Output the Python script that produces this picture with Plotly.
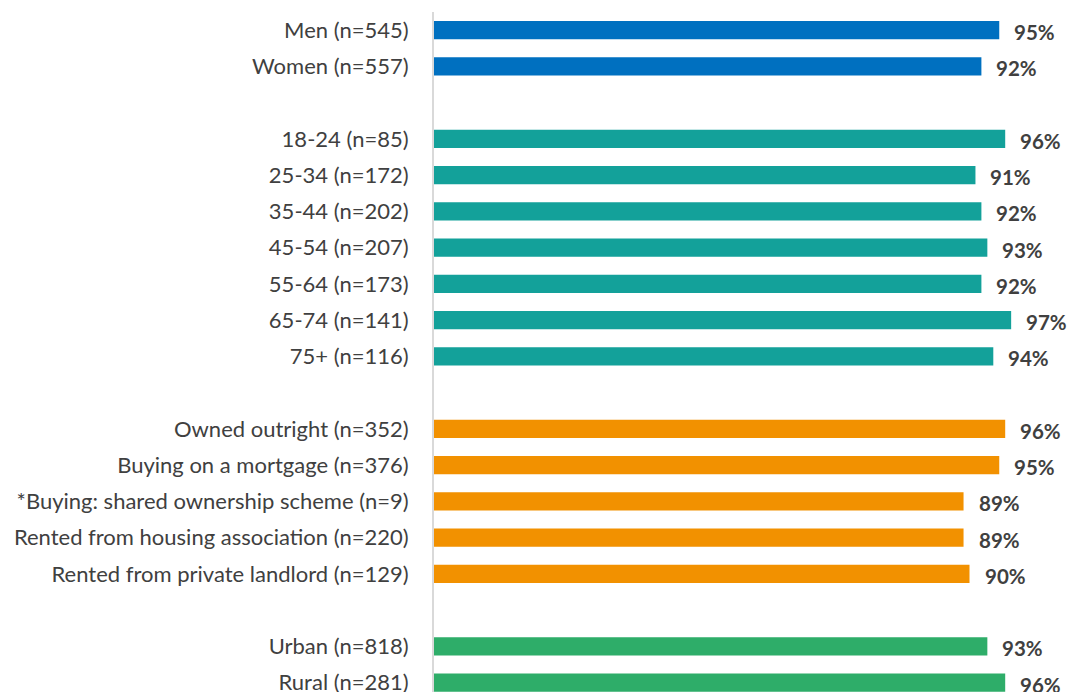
import plotly.graph_objects as go

# Survey results by subgroup (% of respondents)
gender_labels = ["Men (n=545)", "Women (n=557)"]
gender_values = [95, 92]

age_labels = ["18-24 (n=85)", "25-34 (n=172)", "35-44 (n=202)", "45-54 (n=207)",
              "55-64 (n=173)", "65-74 (n=141)", "75+ (n=116)"]
age_values = [96, 91, 92, 93, 92, 97, 94]

tenure_labels = ["Owned outright (n=352)", "Buying on a mortgage (n=376)",
                 "*Buying: shared ownership scheme (n=9)",
                 "Rented from housing association (n=220)",
                 "Rented from private landlord (n=129)"]
tenure_values = [96, 95, 89, 89, 90]

area_labels = ["Urban (n=818)", "Rural (n=281)"]
area_values = [93, 96]

groups = [
    (gender_labels, gender_values, "#0070C0"),
    (age_labels, age_values, "#13A19A"),
    (tenure_labels, tenure_values, "#F29100"),
    (area_labels, area_values, "#2EAD69"),
]

# category order with empty spacer rows between groups
order = []
for i, (labels, _, _) in enumerate(groups):
    if i > 0:
        order.append(" " * i)
    order.extend(labels)

fig = go.Figure()
annotations = []
for labels, values, color in groups:
    fig.add_trace(go.Bar(
        y=labels, x=values, orientation="h",
        marker=dict(color=color, line=dict(width=0)),
        width=0.5, showlegend=False, hoverinfo="skip",
    ))
    for lab, v in zip(labels, values):
        annotations.append(dict(
            x=v, y=lab, xref="x", yref="y", text=f"<b>{v}%</b>",
            showarrow=False, xanchor="left", yanchor="middle", xshift=13, yshift=-2,
            font=dict(family="Lato", size=20.5, color="#404040"),
        ))

pitch = 36.25
top_margin = 12
plot_h = 692 - top_margin

fig.update_layout(
    width=1076, height=692,
    margin=dict(l=434, r=47, t=top_margin, b=0, pad=0, autoexpand=False),
    paper_bgcolor="white", plot_bgcolor="white",
    bargap=0.5,
    annotations=annotations,
    font=dict(family="Lato", size=18, color="#404040"),
)
fig.update_xaxes(range=[0, 100], showgrid=False, zeroline=False,
                 showticklabels=False, showline=False, automargin=False)
fig.update_yaxes(type="category", categoryorder="array", categoryarray=order,
                 range=[-0.5 + plot_h / pitch, -0.5], automargin=False,
                 showgrid=False, zeroline=False,
                 showline=True, linecolor="#D9D9D9", linewidth=2,
                 ticks="", ticklabelstandoff=19,
                 tickfont=dict(family="Lato", size=22, color="#404040"))

fig.write_html("out.html")
